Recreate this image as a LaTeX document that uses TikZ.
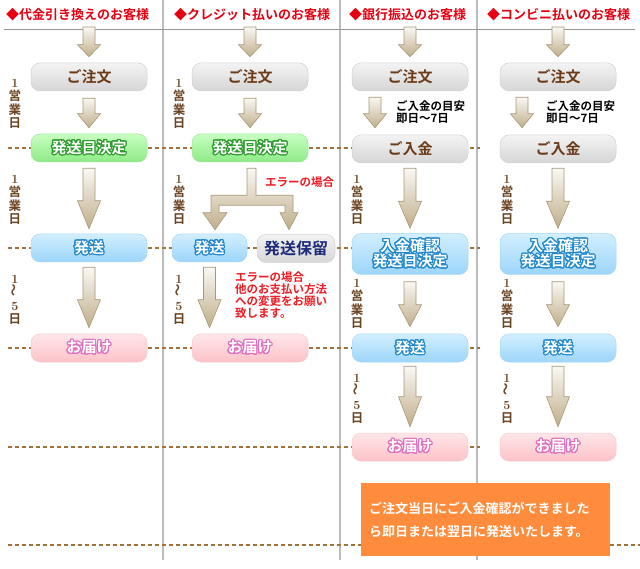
\documentclass[tikz,border=0pt]{standalone}
\usepackage{fontspec}
\usepackage[copies]{contour}
\usetikzlibrary{calc}
\newfontfamily\jp[BoldFont={Noto Sans CJK JP Bold}]{Noto Sans CJK JP}
\contourlength{1.1pt}
\contournumber{24}
\definecolor{headred}{HTML}{E60012}
\definecolor{errred}{HTML}{EE1C25}
\definecolor{labbrown}{HTML}{6B4422}
\definecolor{boxbrown}{HTML}{6B3A16}
\definecolor{dashbrown}{HTML}{A0723C}
\definecolor{rule}{HTML}{BBBBBB}
\definecolor{orangebg}{HTML}{FF8C3C}
\definecolor{grayT}{HTML}{F3F3F3}
\definecolor{grayB}{HTML}{D6D6D6}
\definecolor{grayE}{HTML}{D2D2D2}
\definecolor{greenT}{HTML}{C8FFC2}
\definecolor{greenB}{HTML}{8EEA86}
\definecolor{greenE}{HTML}{A0E898}
\definecolor{greenO}{HTML}{2E9B2E}
\definecolor{blueT}{HTML}{D2EFFF}
\definecolor{blueB}{HTML}{9CD5FA}
\definecolor{blueE}{HTML}{AAD8F4}
\definecolor{blueO}{HTML}{2288CC}
\definecolor{pinkT}{HTML}{FFE6E8}
\definecolor{pinkB}{HTML}{FCC2C8}
\definecolor{pinkE}{HTML}{F6CACE}
\definecolor{pinkO}{HTML}{E070C0}
\definecolor{navy}{HTML}{1C2A78}
\definecolor{arrT}{HTML}{FAF8F3}
\definecolor{arrB}{HTML}{C0AE8A}
\definecolor{arrE}{HTML}{A8987A}
\newcommand\ol[2]{{\color{white}\contour{#1}{#2}}}
\newcommand\dg[1]{{\normalfont\bfseries #1}}
\newcommand\barrow[3][14]{%
  \path[barrowsty] let \p1=(#2), \p2=(#3) in
   (\x1-6pt,\y1) -- (\x1+6pt,\y1) -- (\x1+6pt,\y2+#1pt) -- (\x1+11.5pt,\y2+#1pt)
   -- (\x1,\y2) -- (\x1-11.5pt,\y2+#1pt) -- (\x1-6pt,\y2+#1pt) -- cycle;}
\begin{document}
\begin{tikzpicture}[x=1pt,y=-1pt,
  every node/.style={inner sep=0pt},
  pbox/.style={rounded corners=9pt, minimum width=116pt, minimum height=28pt,
    font=\jp\bfseries\fontsize{15}{17}\selectfont, line width=0.5pt},
  graybox/.style={pbox, top color=grayT, bottom color=grayB, draw=grayE, text=boxbrown},
  greenbox/.style={pbox, top color=greenT, bottom color=greenB, draw=greenE},
  bluebox/.style={pbox, top color=blueT, bottom color=blueB, draw=blueE},
  pinkbox/.style={pbox, top color=pinkT, bottom color=pinkB, draw=pinkE},
  barrowsty/.style={top color=arrT, bottom color=arrB, draw=arrE, line width=0.6pt},
  header/.style={anchor=west, text=headred, font=\jp\bfseries\fontsize{13}{15}\selectfont},
  vlab/.style={align=center, text=labbrown, font=\jp\bfseries\fontsize{12.5}{13.5}\selectfont},
  note/.style={anchor=west, align=left, font=\jp\bfseries\fontsize{11.5}{11.5}\selectfont},
  err/.style={anchor=west, align=left, text=errred, font=\jp\bfseries\fontsize{11.5}{12}\selectfont},
  guide/.style={dashbrown, line width=1.4pt, dash pattern=on 4pt off 3pt},
  rulev/.style={rule, line width=1.3pt}]
\fill[white] (0,0) rectangle (640,569);
\useasboundingbox (0,0) rectangle (640,569);

% rules
\coordinate (v1a) at (163,0); \coordinate (v1b) at (163,560);
\coordinate (v2a) at (340,0); \coordinate (v2b) at (340,560);
\coordinate (v3a) at (477,0); \coordinate (v3b) at (477,560);
\coordinate (hla) at (4,30);  \coordinate (hlb) at (635,30);
\draw[rulev] (v1a) -- (v1b);
\draw[rulev] (v2a) -- (v2b);
\draw[rulev] (v3a) -- (v3b);
\draw[rule!80!black, line width=1pt] (hla) -- (hlb);

% guides
\foreach \yy/\nm in {148/g1,248/g2,348/g3,447/g4}{
  \coordinate (\nm a) at (8,\yy); \coordinate (\nm b) at (480,\yy);
  \draw[guide] (\nm a) -- (\nm b);}
\coordinate (g5a) at (8,545); \coordinate (g5b) at (640,545);
\draw[guide] (g5a) -- (g5b);

% headers
\node[header] (h1) at (6,15) {◆代金引き換えのお客様};
\node[header] (h2) at (174,15) {◆クレジット払いのお客様};
\node[header] (h3) at (349,15) {◆銀行振込のお客様};
\node[header] (h4) at (487,15) {◆コンビニ払いのお客様};

% column 1
\node[graybox]  (o1) at (89,77)  {ご注文};
\node[greenbox] (k1) at (89,148) {\ol{greenO}{発送日決定}};
\node[bluebox]  (s1) at (89,248) {\ol{blueO}{発送}};
\node[pinkbox]  (d1) at (89,348) {\ol{pinkO}{お届け}};

% column 2
\node[graybox]  (o2) at (250,77)  {ご注文};
\node[greenbox] (k2) at (250,148) {\ol{greenO}{発送日決定}};
\node[bluebox, minimum width=75pt] (s2) at (209.5,248) {\ol{blueO}{発送}};
\node[pbox, minimum width=78pt, top color=grayT, bottom color=grayB, draw=grayE, text=navy,
      font=\jp\bfseries\fontsize{16}{18}\selectfont] (hr2) at (296,248.5) {発送保留};
\node[pinkbox]  (d2) at (250,348) {\ol{pinkO}{お届け}};

% column 3
\node[graybox]  (o3) at (410,77)  {ご注文};
\node[graybox]  (p3) at (410,149) {ご入金};
\node[bluebox, minimum height=41pt, align=center, font=\jp\bfseries\fontsize{15}{15.5}\selectfont]
   (c3) at (410,254) {\ol{blueO}{入金確認}\\\ol{blueO}{発送日決定}};
\node[bluebox]  (s3) at (410,348) {\ol{blueO}{発送}};
\node[pinkbox]  (d3) at (410,447) {\ol{pinkO}{お届け}};

% column 4
\node[graybox]  (o4) at (558,77)  {ご注文};
\node[graybox]  (p4) at (558,149) {ご入金};
\node[bluebox, minimum height=41pt, align=center, font=\jp\bfseries\fontsize{15}{15.5}\selectfont]
   (c4) at (558,254) {\ol{blueO}{入金確認}\\\ol{blueO}{発送日決定}};
\node[bluebox]  (s4) at (558,348) {\ol{blueO}{発送}};
\node[pinkbox]  (d4) at (558,447) {\ol{pinkO}{お届け}};

% arrow start points under header line
\coordinate (t1) at (89,27);
\coordinate (t2) at (250,27);
\coordinate (t3) at (410,27);
\coordinate (t4) at (558,27);

% arrows column 1
\barrow[12]{t1}{$(o1.north)+(0,-6)$}
\barrow[14]{$(o1.south)+(0,7)$}{$(k1.north)+(0,-6)$}
\barrow[28]{$(k1.south)+(0,6)$}{$(s1.north)+(0,-5)$}
\barrow[28]{$(s1.south)+(0,5)$}{$(d1.north)+(0,-6)$}

% arrows column 2
\barrow[12]{t2}{$(o2.north)+(0,-6)$}
\barrow[14]{$(o2.south)+(0,7)$}{$(k2.north)+(0,-6)$}
\path[barrowsty] let \p1=(k2.south), \p2=(s2.north), \p3=(hr2.north) in
  (\x1-3pt,\y1-6pt) -- (\x1+6pt,\y1-6pt) -- (\x1+6pt,\y1-33pt)
  -- (\x3-3pt,\y1-33pt) -- (\x3-3pt,\y2+21pt) -- (\x3+2pt,\y2+21pt) -- (\x3-7pt,\y2+4pt)
  -- (\x3-16pt,\y2+21pt) -- (\x3-11pt,\y2+21pt) -- (\x3-11pt,\y1-43pt)
  -- (\x2+9.5pt,\y1-43pt) -- (\x2+9.5pt,\y2+21pt) -- (\x2+17.5pt,\y2+21pt) -- (\x2+5.5pt,\y2+4pt)
  -- (\x2-6.5pt,\y2+21pt) -- (\x2+1.5pt,\y2+21pt) -- (\x2+1.5pt,\y1-33pt)
  -- (\x1-3pt,\y1-33pt) -- cycle;
\barrow[28]{$(s2.south)+(0,5)$}{$(d2.north)+(0,-6)$}

% arrows column 3
\barrow[12]{t3}{$(o3.north)+(0,-6)$}
\barrow[14]{$(o3.south)+(-35,6)$}{$(p3.north)+(0,-7)$}
\barrow[27]{$(p3.south)+(0,5)$}{$(c3.north)+(0,-5)$}
\barrow[22]{$(c3.south)+(0,7)$}{$(s3.north)+(0,-7)$}
\barrow[30]{$(s3.south)+(0,4)$}{$(d3.north)+(0,-6)$}

% arrows column 4
\barrow[12]{t4}{$(o4.north)+(0,-6)$}
\barrow[14]{$(o4.south)+(-36,6)$}{$(p4.north)+(0,-7)$}
\barrow[27]{$(p4.south)+(0,5)$}{$(c4.north)+(0,-5)$}
\barrow[22]{$(c4.south)+(0,7)$}{$(s4.north)+(0,-7)$}
\barrow[30]{$(s4.south)+(0,4)$}{$(d4.north)+(0,-6)$}

% vertical day labels
\node[vlab] (l1a) at (15,104) {\dg{1}\\営\\業\\日};
\node[vlab] (l1b) at (15,200) {\dg{1}\\営\\業\\日};
\node[vlab] (l1c) at (15,300) {\dg{1}\\\rotatebox{90}{〜}\\\dg{5}\\日};
\node[vlab] (l2a) at (179,104) {\dg{1}\\営\\業\\日};
\node[vlab] (l2b) at (179,200) {\dg{1}\\営\\業\\日};
\node[vlab] (l2c) at (179,300) {\dg{1}\\\rotatebox{90}{〜}\\\dg{5}\\日};
\node[vlab] (l3a) at (357,200) {\dg{1}\\営\\業\\日};
\node[vlab] (l3b) at (357,304) {\dg{1}\\営\\業\\日};
\node[vlab] (l3c) at (357,399) {\dg{1}\\\rotatebox{90}{〜}\\\dg{5}\\日};
\node[vlab] (l4a) at (507,200) {\dg{1}\\営\\業\\日};
\node[vlab] (l4b) at (507,304) {\dg{1}\\営\\業\\日};
\node[vlab] (l4c) at (507,399) {\dg{1}\\\rotatebox{90}{〜}\\\dg{5}\\日};

% notes
\node[note] (n3) at (396,112) {ご入金の目安\\即日〜7日};
\node[note] (n4) at (546,112) {ご入金の目安\\即日〜7日};
\node[err] (e1) at (265,182) {エラーの場合};
\node[err] (e2) at (235,295) {エラーの場合\\他のお支払い方法\\への変更をお願い\\致します。};

% orange message
\node[fill=orangebg, minimum width=249pt, minimum height=73pt, text width=233pt, align=left,
      text=white, font=\jp\bfseries\fontsize{13}{23}\selectfont] (msg) at (485.5,519.5)
  {ご注文当日にご入金確認ができました\\ら即日または翌日に発送いたします。};
\end{tikzpicture}
\end{document}
